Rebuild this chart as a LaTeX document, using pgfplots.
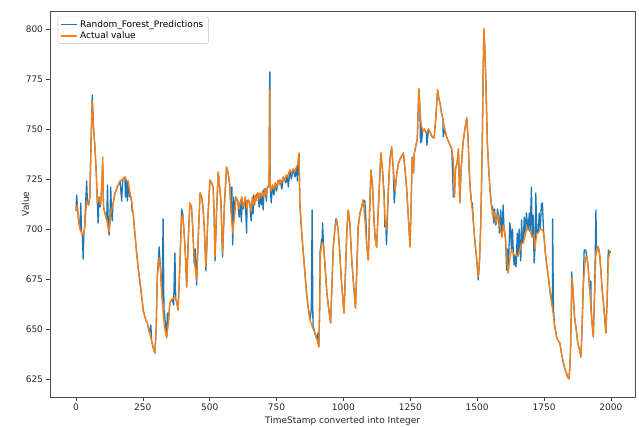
\documentclass[border=0pt]{standalone}
\usepackage{pgfplots}
\pgfplotsset{compat=1.18}
\usepackage{fontspec}
\setmainfont{DejaVu Sans}
\definecolor{mblue}{HTML}{1F77B4}
\definecolor{morange}{HTML}{FF7F0E}
\begin{document}
\begin{tikzpicture}
\useasboundingbox (-50pt,-29pt) rectangle (589pt,397pt);
\begin{axis}[
  at={(0pt,0pt)}, anchor=south west,
  scale only axis, width=585pt, height=386pt,
  xmin=-97, xmax=2090, ymin=616, ymax=809,
  xtick={0,250,...,2000}, ytick={625,650,...,800},
  tick align=outside, tick pos=left,
  major tick length=3.5pt,
  every tick/.style={black!75, line width=0.6pt},
  axis line style={black!70, line width=0.7pt},
  tick label style={font=\fontsize{9}{10}\selectfont, text=black!85},
  /pgf/number format/assume math mode=true,
  /pgf/number format/1000 sep={},
  xlabel={TimeStamp converted into Integer},
  ylabel={Value},
  label style={font=\fontsize{9}{10}\selectfont, text=black!85},
  xlabel shift=-1pt, ylabel shift=-10pt,
  legend style={font=\fontsize{9}{10}\selectfont, draw=black!25, rounded corners=2pt, fill=white, fill opacity=0.8, text opacity=1, row sep=-1pt, inner xsep=3pt, inner ysep=1.5pt, at={(0.013,0.985)}, anchor=north west},
  legend cell align=left,
  legend image code/.code={\draw[#1, line width=1.3pt] (0pt,0pt) -- (16pt,0pt);},
  line join=round,
]
\addplot[mblue, line width=1.3pt] coordinates {
(0,709) (3,717) (5,712) (10,704) (15,700) (18,713) (21,698) (24,697) (27,685) (30,699) (32,700)
(40,724) (43,713) (47,712) (52,716) (57,747) (61,767) (65,752) (71,741) (76,728) (80,713) (83,703)
(86,716) (90,711) (92,712) (96,720) (100,733) (103,711) (110,707) (115,704.5) (118,722) (121,701)
(124,697) (127,705) (130,721) (133,708) (136,704) (138,712) (146,718) (155,721) (165,724) (171,714)
(175,725) (183,726) (185,716) (188,725) (192,714) (195,724) (200,716) (202,718) (208,714) (210,709)
(214,708) (220,698) (227,688) (233,680) (239,674) (246,666) (252,659) (260,655) (267,653) (275,648)
(280,652) (283,644) (290,640) (295,638) (300,650) (304,676) (311,691) (316,680) (322,665) (326,705)
(329,660) (335,652) (339,646) (342,658) (345,652) (351,663) (360,665) (365,662) (370,688) (373,665)
(376,664) (382,659.5) (388,680) (395,710) (400,707) (404,699) (410,685) (414,671) (420,695) (426,713)
(432,711) (437,700) (442,683) (446,690) (451,672) (457,695) (464,718) (470,716) (475,711) (480,700)
(486,679) (493,705) (501,724.5) (507,723) (513,721) (517,705) (520,684) (526,710) (532,728.5)
(538,720) (542,714) (548,686) (555,712) (563,731) (569,728) (575,722) (578,713) (580,708) (583,721)
(586,692) (590,716) (592,705) (598,716) (605,714) (610,706) (613,713) (619,703.5) (620,716) (625,710)
(628,712) (633,715) (638,698) (640,714) (644,714.5) (650,713) (655,704) (660,716) (662,707.5)
(665,717) (668,712) (670,715) (675,717) (680,718) (685,711) (688,718) (693,712) (698,719) (700,709.5)
(703,720) (708,720) (712,714) (715,721) (719,721) (722,723) (724,769.5) (725,778.5) (726,722)
(730,713) (735,722) (740,717) (745,723) (750,719) (755,724) (763,724.5) (770,720) (775,726)
(785,723) (790,727) (794,721) (800,729.5) (805,725) (812,730) (819,726) (825,731) (828,724)
(830,733) (834,738) (837,713) (843,700) (850,688) (856,678) (862,668) (868,661) (875,654.5)
(880,660) (883,709.5) (886,652) (893,648) (900,645) (905,648) (908,641) (911,660) (913,690)
(914,688) (918,695) (920,693) (922,703) (925,693) (930,684) (938,668) (945,660) (952,653) (957,672)
(962,691) (968,700) (972,705) (974,705) (980,700) (985,691) (992,675) (1002,658) (1008,680)
(1013,700) (1018,709.5) (1024,703) (1031,684.5) (1038,672) (1045,660.5) (1050,680) (1055,701)
(1062,708) (1068,711) (1074,714.5) (1080,714) (1084,705) (1087,692) (1093,684.5) (1098,710)
(1103,729.5) (1109,721) (1114,705) (1119,695) (1124,691) (1132,715) (1140,738) (1146,729.5)
(1152,718) (1155,701) (1158,704) (1161,692) (1168,720) (1174,735) (1180,741) (1186,731) (1190,713)
(1193,719) (1199,727) (1205,732.5) (1212,735) (1224,738) (1230,730) (1236,721) (1243,705)
(1249,691) (1253,712) (1257,736) (1262,728) (1265,738) (1270,741) (1276,745) (1282,770) (1286,760)
(1288,743) (1290,753) (1292,743.5) (1296,749) (1302,750) (1310,748) (1312,742) (1318,750)
(1325,748) (1332,746) (1339,745.5) (1345,755) (1352,769.5) (1357,765) (1361,763) (1366,758.5)
(1372,755) (1373,746) (1379,750) (1386,746) (1395,743) (1405,740) (1411,716) (1415,716) (1419,730)
(1425,733) (1430,740) (1435,713) (1440,730) (1447,743) (1454,750) (1461,755.5) (1466,745)
(1470,730) (1474,720) (1479,713) (1482,713) (1486,703) (1492,693) (1498,685) (1504,674.5)
(1509,685) (1513,701) (1516,720) (1519,743) (1522,775) (1525,800) (1528,792) (1532,776) (1538,743)
(1543,730) (1548,719.5) (1553,712) (1558,711) (1562,703) (1565,710) (1569,702) (1572,703)
(1576,710) (1580,706) (1583,698) (1588,709.5) (1593,696) (1597,712) (1600,701) (1606,695)
(1610,679.5) (1613,690) (1616,678) (1622,703) (1625,700) (1628,689.5) (1632,700) (1635,688)
(1638,682) (1641,686.5) (1645,681) (1647,687) (1650,698) (1653,686.5) (1657,700) (1660,690)
(1663,684) (1666,704.5) (1669,693) (1672,693) (1676,706) (1680,697) (1684,708) (1690,699.5)
(1695,708) (1698,699) (1703,721) (1705,696) (1709,707) (1713,683) (1716,690) (1719,718) (1723,698)
(1728,698) (1732,708) (1736,700) (1740,712.5) (1744,713) (1748,699) (1750,696) (1755,688)
(1760,682) (1766,676) (1773,668) (1781,661) (1782,705) (1785,660) (1789,652) (1797,646) (1803,644)
(1809,643) (1815,638) (1822,633) (1828,630) (1834,628) (1838,626) (1843,625) (1846,630)
(1849,639.5) (1852,660) (1853,678.5) (1855,676) (1860,665) (1864,656) (1870,650) (1876,643)
(1882,640) (1888,636) (1892,650) (1896,669.5) (1900,689.5) (1906,689.5) (1910,686) (1915,681)
(1920,670) (1925,674) (1926,659.5) (1930,652) (1934,646) (1939,668) (1944,709.5) (1946,688)
(1949,691) (1953,691) (1958,687) (1962,680) (1967,670) (1972,663) (1977,655) (1981,648) (1986,665)
(1990,689.5) (1995,688) (1999,689)
};
\addlegendentry{Random\_Forest\_Predictions}
\addplot[morange, line width=1.3pt] coordinates {
(0,709) (5,712) (10,704) (15,700) (21,698) (27,697) (32,700) (40,714) (47,712) (52,716) (57,745)
(61,764) (65,752) (71,741) (76,728) (80,713) (86,716) (92,712) (96,720) (100,736) (103,711)
(110,707) (115,704.5) (124,698.5) (130,708) (138,712) (146,718) (155,721) (165,724) (175,725)
(183,726) (190,724) (195,724) (202,718) (208,714) (214,708) (220,698) (227,688) (233,680) (239,674)
(246,666) (252,659) (260,655) (267,653) (275,648) (283,644) (290,640) (295,638) (300,650) (304,676)
(311,685.5) (316,680) (322,665) (330,652) (339,645.5) (345,652) (351,663) (360,665) (370,666)
(376,664) (382,659.5) (388,680) (395,706) (400,707) (404,699) (410,685) (414,671) (420,695)
(426,713) (432,711) (437,700) (442,684.5) (451,674.5) (457,695) (464,718) (470,716) (475,711)
(480,700) (486,681) (493,705) (501,724.5) (507,723) (513,721) (517,705) (520,686) (526,710)
(532,728.5) (538,720) (542,714) (548,688) (555,712) (563,731) (569,728) (575,722) (580,708)
(586,698) (592,705) (598,716) (605,714) (610,710) (613,713) (620,716) (624,711) (628,712)
(632,716) (636,714) (640,710) (644,714.5) (650,713) (655,709) (660,716) (665,712) (670,717)
(675,714) (680,718) (684,715) (688,718) (693,716) (698,719) (703,716) (708,720) (712,717)
(715,721) (719,721) (722,723) (724,769.5) (726,722) (730,719) (735,722) (740,720) (745,723)
(750,721) (755,724) (759,722) (763,724.5) (768,723) (775,726) (780,724) (785,727) (790,726)
(795,728) (800,729.5) (806,728) (812,730) (818,729) (825,731) (830,733) (834,738) (837,713)
(843,700) (850,688) (856,678) (862,668) (868,661) (875,654.5) (884,651) (893,648) (900,645)
(908,641) (911,660) (914,688) (920,693) (925,693) (930,684) (938,668) (945,660) (952,653) (957,672)
(962,691) (968,700) (974,704.5) (980,700) (985,691) (992,675) (1002,658) (1008,680) (1013,700)
(1018,709.5) (1024,703) (1031,684.5) (1038,672) (1045,660.5) (1050,680) (1055,701) (1062,708)
(1068,711) (1074,714.5) (1080,705) (1087,692) (1093,684.5) (1098,710) (1103,729.5) (1109,721)
(1114,705) (1119,695) (1124,691) (1132,715) (1140,738) (1146,729.5) (1152,715) (1156,704)
(1161,699.5) (1168,720) (1174,735) (1180,741) (1186,731) (1193,719) (1199,727) (1205,732.5)
(1212,735) (1224,738) (1230,730) (1236,721) (1243,705) (1249,691) (1253,712) (1257,736) (1262,728)
(1265,738) (1270,741) (1276,745) (1282,770) (1286,760) (1290,753) (1296,749) (1302,750) (1310,748)
(1318,750) (1325,748) (1332,746) (1339,745.5) (1345,755) (1352,769.5) (1357,765) (1361,763)
(1366,758.5) (1372,755) (1379,750) (1386,746) (1395,743) (1405,740) (1411,734.5) (1415,716)
(1419,730) (1425,733) (1430,740) (1435,713) (1440,730) (1447,743) (1454,750) (1461,755.5)
(1466,745) (1470,730) (1474,720) (1479,713) (1486,703) (1492,693) (1498,685) (1504,676) (1509,685)
(1513,701) (1516,720) (1519,743) (1522,775) (1525,800) (1528,792) (1532,776) (1538,743) (1543,730)
(1548,719.5) (1553,712) (1558,706) (1562,709) (1565,706) (1569,704) (1572,703) (1576,707)
(1580,706) (1586,700) (1593,696) (1597,702) (1600,701) (1606,695) (1611,685) (1616,678) (1622,685)
(1628,689.5) (1635,688) (1641,686.5) (1647,687) (1653,686.5) (1660,690) (1666,693) (1672,693)
(1680,697) (1685,701) (1690,699.5) (1698,699) (1705,696) (1712,697) (1716,690) (1723,698)
(1728,698) (1736,700) (1745,699.5) (1750,696) (1755,688) (1760,682) (1766,676) (1773,668)
(1781,661) (1789,652) (1797,646) (1803,644) (1809,643) (1815,638) (1822,633) (1828,630) (1834,628)
(1838,626) (1843,625) (1846,630) (1849,639.5) (1852,660) (1855,676) (1860,665) (1864,656)
(1870,650) (1876,643) (1882,640) (1888,636) (1892,650) (1896,669.5) (1901,680) (1906,686)
(1910,686) (1915,681) (1920,670) (1926,659.5) (1930,652) (1934,646) (1939,668) (1944,688)
(1949,691) (1953,691) (1958,687) (1962,680) (1967,670) (1972,663) (1977,655) (1981,648) (1986,665)
(1990,684.5) (1995,688) (1999,689)
};
\addlegendentry{Actual value}
\end{axis}
\end{tikzpicture}
\end{document}
